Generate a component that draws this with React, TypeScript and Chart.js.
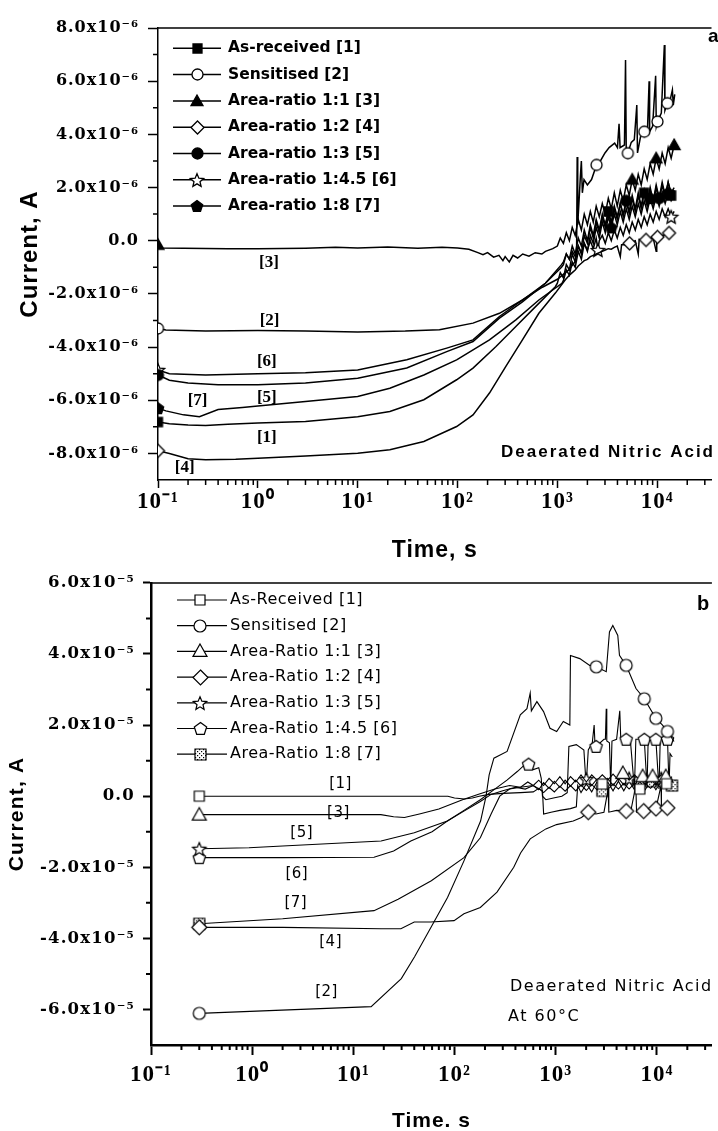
import React, { useEffect, useRef } from 'react';
import { Chart, registerables } from 'chart.js';

Chart.register(...registerables);

// ================= shared x axis (time, s, log) =================
const X_MIN = 0.1;
const X_MAX = 35000;
const X_DECADES = [0.1, 1, 10, 100, 1000, 10000];

// ================= panel a (current in 1e-6 A) =================
const A_UNIT = 1e-6;
const A_Y_MIN = -9;
const A_Y_MAX = 8;
const A_Y_TICKS = [-8, -6, -4, -2, 0, 2, 4, 6, 8];
const A_Y_MINOR = [-7, -5, -3, -1, 1, 3, 5, 7];
const A_NAMES = [
  'As-received [1]',
  'Sensitised [2]',
  'Area-ratio 1:1 [3]',
  'Area-ratio 1:2 [4]',
  'Area-ratio 1:3 [5]',
  'Area-ratio 1:4.5 [6]',
  'Area-ratio 1:8 [7]',
];

const A1: [number, number][] = [
  [0.1, -6.82], [0.13, -6.88], [0.2, -6.93], [0.3, -6.95], [0.5, -6.9], [1, -6.86], [3, -6.8], [10, -6.62],
  [21, -6.42], [46, -5.98], [98, -5.23], [143, -4.79], [243, -3.98], [384, -3.23], [605, -2.48], [955, -1.73],
  [1000, -1.6], [1070, -1.2], [1150, -1.4], [1230, -0.9], [1320, -1.1], [1410, -0.5], [1510, -0.8], [1620, -0.2],
  [1740, -0.5], [1860, 0.2], [2000, -0.1], [2140, 0.5], [2290, 0.1], [2450, 0.7], [2630, 0.3], [2820, 0.9],
  [3020, 0.5], [3240, 1.1], [3470, 0.6], [3720, 1.2], [3980, 0.8], [4270, 1.4], [4570, 0.9], [4900, 1.5],
  [5250, 1.0], [5620, 1.6], [6030, 1.1], [6460, 1.7], [6920, 1.2], [7410, 1.8], [7940, 1.3], [8510, 1.9],
  [9120, 1.4], [9770, 2.0], [10470, 1.5], [11220, 2.1], [12020, 1.6], [12880, 2.2], [13800, 1.7], [14790, 1.9],
];
const A2: [number, number][] = [
  [0.1, -3.3], [0.12, -3.36], [0.3, -3.4], [1, -3.38], [3, -3.4], [10, -3.43], [30, -3.4], [66, -3.35],
  [143, -3.1], [263, -2.73], [447, -2.23], [708, -1.75], [1000, -1.45], [1300, -1.1], [1500, -0.8],
  [1560, -0.4], [1580, 3.15], [1600, 0.6], [1650, 1.5], [1700, 2.4], [1740, 3.0], [1780, 1.8], [1850, 2.3],
  [2000, 2.1], [2200, 2.3], [2470, 2.85], [2700, 3.0], [3000, 3.3], [3300, 3.5], [3750, 3.67], [4000, 3.5],
  [4150, 4.4], [4250, 3.5], [4700, 3.6], [4820, 6.8], [4900, 3.4], [5080, 3.29], [5500, 3.7], [5900, 3.8],
  [6250, 5.1], [6350, 3.3], [6800, 3.9], [7430, 4.1], [8000, 4.2], [8300, 6.0], [8400, 4.1], [9000, 4.3],
  [9650, 6.2], [9800, 4.3], [10070, 4.48], [11000, 4.8], [11800, 7.36], [11950, 4.9], [12650, 5.17],
  [13500, 5.3], [14200, 5.67], [14500, 5.1], [15000, 5.5],
];
const A3: [number, number][] = [
  [0.1, -0.15], [0.11, -0.27], [0.5, -0.3], [1, -0.3], [3, -0.28], [6, -0.25], [10, -0.27], [20, -0.24],
  [40, -0.28], [70, -0.25], [100, -0.27], [130, -0.32], [160, -0.45], [180, -0.53], [200, -0.45], [230, -0.62],
  [260, -0.55], [285, -0.75], [300, -0.6], [330, -0.8], [360, -0.55], [400, -0.65], [450, -0.5], [520, -0.58],
  [600, -0.45], [700, -0.5], [760, -0.4], [900, -0.3], [1000, -0.2], [1070, 0.1], [1150, -0.1], [1230, 0.3],
  [1320, 0.0], [1410, 0.5], [1510, 0.2], [1620, 0.8], [1740, 0.4], [1860, 1.0], [2000, 0.6], [2140, 1.1],
  [2290, 0.7], [2450, 1.3], [2630, 0.9], [2820, 1.4], [3020, 1.0], [3240, 1.6], [3470, 1.2], [3720, 1.8],
  [3980, 1.3], [4270, 1.9], [4570, 1.5], [4900, 2.1], [5250, 1.7], [5620, 2.3], [6030, 1.9], [6460, 2.5],
  [6920, 2.1], [7410, 2.7], [7940, 2.3], [8510, 2.9], [9120, 2.5], [9770, 3.1], [10470, 2.7], [11220, 3.3],
  [12020, 2.9], [12880, 3.5], [13800, 3.1], [14790, 3.6],
];
const A4: [number, number][] = [
  [0.1, -7.9], [0.13, -8.0], [0.2, -8.2], [0.3, -8.24], [0.6, -8.22], [1, -8.18], [3, -8.1], [10, -7.99],
  [21, -7.86], [46, -7.55], [98, -6.99], [143, -6.55], [209, -5.73], [305, -4.73], [447, -3.73], [653, -2.73],
  [955, -1.97], [1202, -1.47], [1320, -1.3], [1410, -1.2], [1510, -1.1], [1620, -0.95], [1740, -0.85],
  [1860, -0.75], [2000, -0.7], [2140, -0.6], [2290, -0.55], [2450, -0.5], [2630, -0.45], [2820, -0.4],
  [3020, -0.35], [3240, -0.3], [3470, -0.32], [3720, -0.25], [3980, -0.2], [4270, -0.6], [4400, -0.15],
  [4900, -0.15], [5290, -0.1], [5620, -0.05], [6030, 0.0], [6460, -0.5], [6600, 0.05], [7410, 0.02],
  [7730, 0.03], [8510, 0.08], [9120, 0.1], [9770, -0.4], [9900, 0.12], [10070, 0.14], [11220, 0.2],
  [12020, 0.22], [13150, 0.29], [14790, 0.35],
];
const A5: [number, number][] = [
  [0.1, -5.05], [0.13, -5.25], [0.2, -5.35], [0.4, -5.42], [1, -5.42], [3, -5.35], [10, -5.17], [31, -4.79],
  [78, -4.17], [143, -3.79], [263, -2.91], [447, -2.3], [759, -1.6], [1100, -1.0], [1150, -0.9], [1230, -0.5],
  [1320, -0.7], [1410, -0.2], [1510, -0.5], [1620, 0.1], [1740, -0.2], [1860, 0.4], [2000, 0.0], [2140, 0.6],
  [2290, 0.2], [2450, 0.8], [2630, 0.4], [2820, 1.0], [3020, 0.6], [3240, 1.1], [3470, 0.7], [3720, 1.3],
  [3980, 0.9], [4270, 1.4], [4570, 1.0], [4900, 1.5], [5250, 1.1], [5620, 1.7], [6030, 1.2], [6460, 1.8],
  [6920, 1.3], [7410, 1.9], [7940, 1.4], [8510, 2.0], [9120, 1.5], [9770, 2.1], [10470, 1.6], [11220, 2.2],
  [12020, 1.7], [12880, 2.2], [13800, 1.8], [14790, 2.0],
];
const A6: [number, number][] = [
  [0.1, -4.86], [0.13, -5.0], [0.3, -5.05], [1, -5.0], [3, -4.97], [10, -4.86], [31, -4.48], [78, -4.04],
  [143, -3.73], [263, -2.85], [447, -2.23], [759, -1.6], [1100, -0.9], [1150, -0.8], [1230, -0.5], [1320, -0.7],
  [1410, -0.4], [1510, -0.6], [1620, -0.2], [1740, -0.45], [1860, -0.1], [2000, -0.35], [2140, 0.0],
  [2290, -0.3], [2450, 0.1], [2550, -0.35], [2630, 0.0], [2820, 0.2], [3020, -0.1], [3240, 0.3], [3470, 0.0],
  [3720, 0.4], [3980, 0.1], [4270, 0.5], [4570, 0.2], [4900, 0.6], [5250, 0.3], [5620, 0.7], [6030, 0.4],
  [6460, 0.8], [6920, 0.5], [7410, 0.9], [7940, 0.6], [8510, 1.0], [9120, 0.7], [9770, 1.1], [10470, 0.8],
  [11220, 1.2], [12020, 0.9], [12880, 1.2], [13800, 0.9], [14790, 1.1],
];
const A7: [number, number][] = [
  [0.1, -6.3], [0.12, -6.4], [0.18, -6.55], [0.26, -6.62], [0.4, -6.35], [0.7, -6.27], [1, -6.22], [3, -6.05],
  [10, -5.86], [21, -5.55], [46, -5.05], [98, -4.48], [209, -3.73], [384, -2.98], [653, -2.23], [1112, -1.6],
  [1150, -1.5], [1230, -1.1], [1320, -1.3], [1410, -0.8], [1510, -1.0], [1620, -0.4], [1740, -0.7], [1860, -0.1],
  [2000, -0.4], [2140, 0.2], [2290, -0.1], [2450, 0.5], [2630, 0.1], [2820, 0.7], [3020, 0.3], [3240, 0.9],
  [3470, 0.5], [3720, 1.0], [3980, 0.6], [4270, 1.1], [4570, 0.7], [4900, 1.2], [5250, 0.8], [5620, 1.3],
  [6030, 0.9], [6460, 1.4], [6920, 1.0], [7410, 1.5], [7940, 1.1], [8510, 1.6], [9120, 1.2], [9770, 1.7],
  [10470, 1.3], [11220, 1.8], [12020, 1.4], [12880, 1.8], [13800, 1.5], [14790, 1.7],
];
// times (s) at which the symbols are shown
const A1_MARKS = [0.1, 3240, 7410, 13800];
const A2_MARKS = [0.1, 2470, 5080, 7430, 10070, 12650];
const A3_MARKS = [0.1, 5620, 9770, 14790];
const A4_MARKS = [0.1, 5290, 7730, 10070, 13150];
const A5_MARKS = [0.1, 4900, 10470];
const A6_MARKS = [0.1, 2550, 13800];
const A7_MARKS = [0.1, 3470, 8510, 12880];
// curve tags: text, time (s), current (1e-6 A)
const A_TAGS = ['[1]', '[2]', '[3]', '[4]', '[5]', '[6]', '[7]'];
const A_TAG_T = [1.23, 1.31, 1.29, 0.185, 1.23, 1.23, 0.249];
const A_TAG_V = [-7.41, -3.02, -0.83, -8.54, -5.91, -4.56, -6.02];

// ================= panel b (current in 1e-5 A) =================
const B_UNIT = 1e-5;
const B_Y_MIN = -7;
const B_Y_MAX = 6;
const B_Y_TICKS = [-6, -4, -2, 0, 2, 4, 6];
const B_Y_MINOR = [-5, -3, -1, 1, 3, 5];
const B_NAMES = [
  'As-Received [1]',
  'Sensitised [2]',
  'Area-Ratio 1:1 [3]',
  'Area-Ratio 1:2 [4]',
  'Area-Ratio 1:3 [5]',
  'Area-Ratio 1:4.5 [6]',
  'Area-Ratio 1:8 [7]',
];

const B1: [number, number][] = [
  [0.3, 0.0], [1, 0.0], [5, 0.0], [20, 0.0], [60, 0.0], [86, 0.0], [100, -0.05], [125, -0.08], [150, -0.05],
  [175, 0.0], [220, 0.05], [300, 0.08], [450, 0.1], [600, 0.12], [680, 0.22], [760, 0.1], [860, 0.25],
  [970, 0.12], [1100, 0.28], [1240, 0.14], [1400, 0.3], [1580, 0.15], [1780, 0.32], [2010, 0.16], [2270, 0.33],
  [2560, 0.18], [2890, 0.34], [3270, 0.18], [3690, 0.35], [4170, 0.2], [4710, 0.36], [5320, 0.2], [6010, 0.36],
  [6790, 0.2], [7670, 0.36], [8660, 0.22], [9780, 0.36], [11050, 0.22], [12480, 0.35], [14100, 0.25],
];
const B2: [number, number][] = [
  [0.3, -6.11], [1.97, -6.02], [15, -5.92], [29.8, -5.13], [40.3, -4.52], [58.6, -3.69], [85.3, -2.85],
  [124, -1.82], [181, -0.7], [205, 0.0], [220, 0.6], [245, 1.07], [331, 1.26], [447, 2.29], [520, 2.46],
  [560, 2.9], [575, 2.4], [652, 2.66], [759, 2.38], [879, 1.91], [1023, 1.82], [1189, 2.1], [1380, 2.0],
  [1400, 3.96], [1730, 3.87], [2170, 3.68], [2520, 3.64], [3160, 3.5], [3400, 4.62], [3670, 4.8], [4110, 4.52],
  [4270, 3.96], [4970, 3.68], [6220, 3.03], [7510, 2.74], [9770, 2.19], [11380, 2.0], [12740, 1.82],
  [14790, 1.54],
];
const B3: [number, number][] = [
  [0.3, -0.52], [2, -0.52], [10, -0.52], [18.7, -0.52], [25, -0.58], [32, -0.6], [45, -0.5], [70, -0.36],
  [120, -0.1], [170, 0.05], [250, 0.2], [350, 0.3], [450, 0.25], [530, 0.4], [600, 0.3], [680, 0.45],
  [760, 0.3], [860, 0.5], [970, 0.35], [1100, 0.55], [1240, 0.35], [1400, 0.55], [1580, 0.4], [1780, 0.6],
  [2010, 0.4], [2270, 0.6], [2560, 0.45], [2890, 0.6], [3270, 0.45], [3690, 0.62], [4170, 0.45], [4610, 0.65],
  [5320, 0.45], [6010, 0.6], [6790, 0.45], [7240, 0.56], [7670, 0.45], [8660, 0.6], [9080, 0.56], [9780, 0.45],
  [11050, 0.6], [12250, 0.56], [13100, 0.45], [14100, 0.55],
];
const B4: [number, number][] = [
  [0.3, -3.69], [2, -3.69], [18.8, -3.73], [29.5, -3.73], [40, -3.54], [58, -3.54], [99, -3.5], [124, -3.31],
  [180, -3.13], [263, -2.7], [385, -2.0], [450, -1.6], [560, -1.2], [800, -0.92], [1020, -0.8], [1490, -0.7],
  [1800, -0.6], [2100, -0.45], [2500, -0.5], [3000, -0.45], [3300, 0.2], [3350, -0.45], [4000, -0.4],
  [4970, -0.42], [5500, -0.45], [6200, 0.3], [6300, -0.45], [7400, -0.42], [8500, -0.4], [9800, -0.35],
  [11000, 0.3], [11100, -0.35], [12700, -0.33], [14000, -0.3],
];
const B5: [number, number][] = [
  [0.3, -1.48], [0.93, -1.45], [2, -1.4], [18.8, -1.26], [40, -1.03], [85, -0.7], [124, -0.42], [180, -0.15],
  [230, 0.05], [300, 0.15], [400, 0.25], [500, 0.2], [600, 0.3], [680, 0.18], [760, 0.38], [860, 0.22],
  [970, 0.42], [1100, 0.25], [1240, 0.45], [1400, 0.28], [1580, 0.45], [1780, 0.28], [2010, 0.48], [2270, 0.3],
  [2560, 0.48], [2890, 0.3], [3270, 0.5], [3690, 0.3], [4170, 0.5], [4710, 0.32], [5320, 0.5], [6010, 0.32],
  [6790, 0.5], [7670, 0.32], [8660, 0.5], [9780, 0.32], [11050, 0.5], [12480, 0.32], [14100, 0.45],
];
const B6: [number, number][] = [
  [0.3, -1.73], [2, -1.73], [16, -1.72], [25, -1.54], [37, -1.26], [60, -1.0], [85, -0.7], [124, -0.4],
  [180, -0.1], [250, 0.2], [330, 0.45], [420, 0.7], [480, 0.85], [540, 0.9], [603, 0.75], [680, 0.8],
  [720, 0.5], [740, 0.0], [800, -0.1], [950, -0.05], [1150, 0.0], [1300, 0.1], [1350, 1.4], [1600, 1.45],
  [1900, 1.3], [2000, 0.3], [2100, 1.3], [2300, 1.5], [2400, 2.0], [2450, 1.4], [2510, 1.4], [3000, 1.6],
  [3100, 1.6], [3160, 2.46], [3200, 1.55], [3400, 1.5], [3500, 0.25], [3600, 1.55], [4000, 1.6], [4300, 2.4],
  [4400, 1.6], [4970, 1.6], [5500, 1.5], [6000, 0.2], [6200, 1.6], [7510, 1.6], [8000, 0.25], [8200, 1.55],
  [9770, 1.6], [10500, 0.2], [10800, 1.6], [12740, 1.6], [13200, 0.25], [13500, 1.2], [14200, 1.1],
];
const B7: [number, number][] = [
  [0.3, -3.59], [2, -3.45], [16, -3.22], [27.7, -2.9], [59, -2.38], [124, -1.73], [180, -1.17], [230, -0.5],
  [280, 0.0], [350, 0.2], [450, 0.25], [600, 0.3], [740, 0.15], [760, -0.5], [900, -0.45], [1100, -0.4],
  [1400, -0.35], [1600, -0.3], [1650, 0.3], [1780, 0.1], [2010, 0.35], [2270, 0.12], [2560, 0.4], [2890, 0.15],
  [3270, 0.4], [3690, 0.15], [4170, 0.42], [4710, 0.15], [5320, 0.42], [6010, 0.18], [6790, 0.42], [7670, 0.18],
  [8660, 0.42], [9780, 0.18], [11050, 0.42], [12480, 0.2], [14100, 0.3],
];
const B1_MARKS = [0.3, 2890, 6790, 12480];
const B2_MARKS = [0.3, 2520, 4970, 7510, 9770, 12740];
const B3_MARKS = [0.3, 4610, 7240, 9080, 12250];
const B4_MARKS = [0.3, 2100, 4970, 7400, 9800, 12700];
const B5_MARKS = [0.3, 2010, 5320, 11050];
const B6_MARKS = [0.3, 540, 2510, 4970, 7510, 9770, 12740];
const B7_MARKS = [0.3, 2890, 8660, 14100];
const B_TAGS = ['[1]', '[2]', '[3]', '[4]', '[5]', '[6]', '[7]'];
const B_TAG_T = [7.47, 5.43, 7.13, 5.96, 3.09, 2.76, 2.7];
const B_TAG_V = [0.34, -5.51, -0.48, -4.11, -1.03, -2.18, -3.02];

// ================= helpers =================
const SUP: Record<string, string> = {
  '-': '\u207B', '0': '\u2070', '1': '\u00B9', '2': '\u00B2', '3': '\u00B3', '4': '\u2074',
  '5': '\u2075', '6': '\u2076', '7': '\u2077', '8': '\u2078', '9': '\u2079',
};
const toSup = (n: number) => String(n).split('').map((c) => SUP[c] || c).join('');

type Shape = 'square' | 'circle' | 'triangle' | 'diamond' | 'star' | 'pentagon' | 'checker';
type MarkerSpec = { shape: Shape; filled: boolean; size: number };

function polygon(g: CanvasRenderingContext2D, cx: number, cy: number, pts: [number, number][]) {
  pts.forEach(([px, py], i) => (i === 0 ? g.moveTo(cx + px, cy + py) : g.lineTo(cx + px, cy + py)));
  g.closePath();
}

function makeMarker(m: MarkerSpec, lw: number): HTMLCanvasElement {
  const pad = Math.ceil(lw) + 1;
  const dim = Math.ceil(m.size + 2 * pad);
  const c = document.createElement('canvas');
  c.width = dim;
  c.height = dim;
  const g = c.getContext('2d') as CanvasRenderingContext2D;
  const cx = dim / 2;
  const cy = dim / 2;
  const r = m.size / 2;
  g.beginPath();
  if (m.shape === 'square' || m.shape === 'checker') {
    g.rect(cx - r, cy - r, 2 * r, 2 * r);
  } else if (m.shape === 'circle') {
    g.arc(cx, cy, r, 0, Math.PI * 2);
  } else if (m.shape === 'triangle') {
    polygon(g, cx, cy, [[0, -r], [r, r * 0.78], [-r, r * 0.78]]);
  } else if (m.shape === 'diamond') {
    polygon(g, cx, cy, [[0, -r], [r, 0], [0, r], [-r, 0]]);
  } else if (m.shape === 'pentagon') {
    const pts: [number, number][] = [];
    for (let i = 0; i < 5; i++) {
      const a = -Math.PI / 2 + (i * 2 * Math.PI) / 5;
      pts.push([r * Math.cos(a), r * Math.sin(a) + r * 0.08]);
    }
    polygon(g, cx, cy, pts);
  } else if (m.shape === 'star') {
    const pts: [number, number][] = [];
    for (let i = 0; i < 10; i++) {
      const a = -Math.PI / 2 + (i * Math.PI) / 5;
      const rr = i % 2 === 0 ? r : r * 0.45;
      pts.push([rr * Math.cos(a), rr * Math.sin(a) + r * 0.1]);
    }
    polygon(g, cx, cy, pts);
  }
  g.fillStyle = m.filled ? '#000' : '#fff';
  g.fill();
  if (m.shape === 'checker') {
    g.fillStyle = '#000';
    for (let i = 0; i < m.size; i += 2) {
      for (let j = 0; j < m.size; j += 2) {
        if ((i / 2 + j / 2) % 2 === 0) g.fillRect(cx - r + i, cy - r + j, 1.2, 1.2);
      }
    }
  }
  g.lineWidth = lw;
  g.strokeStyle = '#000';
  g.stroke();
  return c;
}

function fixScale(size: number, dim: 'width' | 'height', spacing: string) {
  return (scale: any) => {
    scale[dim] = size;
    if (!scale.__spaced) {
      const base = Object.getPrototypeOf(scale).draw;
      scale.draw = function (area: any) {
        const c = this.ctx;
        const prev = c.letterSpacing;
        c.letterSpacing = spacing;
        base.call(this, area);
        c.letterSpacing = prev || '0px';
      };
      scale.__spaced = true;
    }
  };
}

type Note = { text: string; x: number; y: number; font: string; align: CanvasTextAlign; spacing: string };

type Panel = {
  series: [number, number][][];
  marks: number[][];
  names: string[];
  markers: MarkerSpec[];
  markerLw: number;
  unit: number;
  sup: string;
  yMin: number;
  yMax: number;
  yTicks: number[];
  yMinor: number[];
  lineWidth: number;
  areaTop: number;
  yAxisWidth: number;
  xAxisHeight: number;
  borderWidth: number;
  tickWidth: number;
  yTickLen: number;
  xTickLen: number;
  minorLen: number;
  topLine: number;
  yTickFont: any;
  yTickPad: number;
  ySpacing: string;
  xTickFont: any;
  xTickPad: number;
  xSpacing: string;
  yTitle: string;
  yTitleFont: any;
  yTitlePad: number;
  xTitle: string;
  xTitleFont: any;
  xTitlePad: number;
  legend: { x0: number; x1: number; xm: number; xText: number; y0: number; dy: number; font: string; spacing: string; lw: number };
  tags: string[];
  tagT: number[];
  tagV: number[];
  tagFont: string;
  tagSpacing: string;
  notes: Note[];
};

function makeDecor(p: Panel) {
  return {
    id: 'decor',
    afterDraw(chart: any) {
      const ctx = chart.ctx;
      const area = chart.chartArea;
      const xs = chart.scales.x;
      const ys = chart.scales.y;
      ctx.save();
      ctx.strokeStyle = '#000';
      ctx.fillStyle = '#000';
      // top frame
      ctx.lineWidth = p.topLine;
      ctx.beginPath();
      ctx.moveTo(area.left, area.top);
      ctx.lineTo(area.right, area.top);
      ctx.stroke();
      // minor ticks
      ctx.lineWidth = p.tickWidth;
      ctx.beginPath();
      p.yMinor.forEach((v) => {
        const y = ys.getPixelForValue(v * p.unit);
        ctx.moveTo(area.left - p.minorLen, y);
        ctx.lineTo(area.left, y);
      });
      X_DECADES.forEach((d) => {
        for (let k = 2; k <= 9; k++) {
          const t = d * k;
          if (t > X_MAX) break;
          const x = xs.getPixelForValue(t);
          ctx.moveTo(x, area.bottom);
          ctx.lineTo(x, area.bottom + p.minorLen);
        }
      });
      ctx.stroke();
      // legend
      const lg = p.legend;
      ctx.font = lg.font;
      ctx.textBaseline = 'middle';
      ctx.textAlign = 'left';
      ctx.letterSpacing = lg.spacing;
      chart.data.datasets.forEach((ds: any, i: number) => {
        const y = lg.y0 + i * lg.dy;
        ctx.lineWidth = lg.lw;
        ctx.beginPath();
        ctx.moveTo(lg.x0, y);
        ctx.lineTo(lg.x1, y);
        ctx.stroke();
        const img = ds.pointStyle as HTMLCanvasElement;
        ctx.drawImage(img, Math.round(lg.xm - img.width / 2), Math.round(y - img.height / 2));
        ctx.fillText(ds.label, lg.xText, y);
      });
      // curve tags
      ctx.font = p.tagFont;
      ctx.textAlign = 'center';
      ctx.letterSpacing = p.tagSpacing;
      p.tags.forEach((tag, i) => {
        ctx.fillText(tag, xs.getPixelForValue(p.tagT[i]), ys.getPixelForValue(p.tagV[i] * p.unit));
      });
      // notes
      p.notes.forEach((n) => {
        ctx.font = n.font;
        ctx.textAlign = n.align;
        ctx.letterSpacing = n.spacing;
        ctx.fillText(n.text, n.x, n.y);
      });
      ctx.letterSpacing = '0px';
      ctx.restore();
    },
  };
}

function buildConfig(p: Panel): any {
  const datasets = p.series.map((s, i) => {
    const marks = new Set(p.marks[i]);
    const img = makeMarker(p.markers[i], p.markerLw);
    return {
      label: p.names[i],
      data: s.map(([t, v]) => ({ x: t, y: v * p.unit })),
      borderColor: '#000',
      backgroundColor: '#000',
      borderWidth: p.lineWidth,
      pointStyle: img,
      pointRadius: (c: any) => (c.raw && marks.has(c.raw.x) ? 5 : 0),
      pointHoverRadius: 0,
      pointHitRadius: 0,
      tension: 0,
      fill: false,
      clip: 0,
    };
  });
  return {
    type: 'line',
    data: { datasets },
    options: {
      responsive: false,
      animation: false,
      events: [],
      layout: { padding: { top: p.areaTop, left: 0, right: 0, bottom: 0 } },
      plugins: { legend: { display: false }, tooltip: { enabled: false } },
      scales: {
        x: {
          type: 'logarithmic',
          min: X_MIN,
          max: X_MAX,
          bounds: 'data',
          afterBuildTicks: (s: any) => {
            s.ticks = X_DECADES.map((v) => ({ value: v }));
          },
          afterFit: fixScale(p.xAxisHeight, 'height', p.xSpacing),
          ticks: {
            autoSkip: false,
            maxRotation: 0,
            color: '#000',
            font: p.xTickFont,
            padding: p.xTickPad,
            callback: (v: any) => '10' + toSup(Math.round(Math.log10(Number(v)))),
          },
          grid: { drawOnChartArea: false, drawTicks: true, tickLength: p.xTickLen, tickWidth: p.tickWidth, tickColor: '#000' },
          border: { display: true, color: '#000', width: p.borderWidth },
          title: { display: true, text: p.xTitle, color: '#000', font: p.xTitleFont, padding: { top: 0, bottom: p.xTitlePad } },
        },
        y: {
          type: 'linear',
          min: p.yMin * p.unit,
          max: p.yMax * p.unit,
          bounds: 'data',
          afterBuildTicks: (s: any) => {
            s.ticks = p.yTicks.map((v) => ({ value: v * p.unit }));
          },
          afterFit: fixScale(p.yAxisWidth, 'width', p.ySpacing),
          ticks: {
            color: '#000',
            font: p.yTickFont,
            padding: p.yTickPad,
            callback: (v: any) => {
              const n = Number(v) / p.unit;
              if (Math.abs(n) < 1e-9) return '0.0';
              return n.toFixed(1) + 'x10' + p.sup;
            },
          },
          grid: { drawOnChartArea: false, drawTicks: true, tickLength: p.yTickLen, tickWidth: p.tickWidth, tickColor: '#000' },
          border: { display: true, color: '#000', width: p.borderWidth },
          title: { display: true, text: p.yTitle, color: '#000', font: p.yTitleFont, padding: { top: p.yTitlePad, bottom: 0 } },
        },
      },
    },
    plugins: [makeDecor(p)],
  };
}

const PANEL_A: Panel = {
  series: [A1, A2, A3, A4, A5, A6, A7],
  marks: [A1_MARKS, A2_MARKS, A3_MARKS, A4_MARKS, A5_MARKS, A6_MARKS, A7_MARKS],
  names: A_NAMES,
  markers: [
    { shape: 'square', filled: true, size: 9 },
    { shape: 'circle', filled: false, size: 11 },
    { shape: 'triangle', filled: true, size: 12 },
    { shape: 'diamond', filled: false, size: 13 },
    { shape: 'circle', filled: true, size: 11 },
    { shape: 'star', filled: false, size: 14 },
    { shape: 'pentagon', filled: true, size: 12 },
  ],
  markerLw: 1.3,
  unit: A_UNIT,
  sup: toSup(-6),
  yMin: A_Y_MIN,
  yMax: A_Y_MAX,
  yTicks: A_Y_TICKS,
  yMinor: A_Y_MINOR,
  lineWidth: 1.5,
  areaTop: 28,
  yAxisWidth: 158,
  xAxisHeight: 90,
  borderWidth: 1.5,
  tickWidth: 1.5,
  yTickLen: 10,
  xTickLen: 8,
  minorLen: 5,
  topLine: 1.5,
  yTickFont: { family: 'DejaVu Serif', size: 16, weight: 'bold' },
  yTickPad: 9,
  ySpacing: '1px',
  xTickFont: { family: 'Liberation Serif', size: 23, weight: 'bold' },
  xTickPad: 0,
  xSpacing: '1px',
  yTitle: 'Current, A',
  yTitleFont: { family: 'Liberation Sans', size: 24, weight: 'bold' },
  yTitlePad: 16,
  xTitle: 'Time, s',
  xTitleFont: { family: 'Liberation Sans', size: 23, weight: 'bold' },
  xTitlePad: 6,
  legend: { x0: 173, x1: 221, xm: 197, xText: 228, y0: 48.3, dy: 26.3, font: 'bold 15.5px "DejaVu Sans"', spacing: '0px', lw: 1.5 },
  tags: A_TAGS,
  tagT: A_TAG_T,
  tagV: A_TAG_V,
  tagFont: 'bold 17px "Liberation Serif"',
  tagSpacing: '0px',
  notes: [
    { text: 'Deaerated Nitric Acid', x: 715, y: 452, font: 'bold 17px "Liberation Sans"', align: 'right', spacing: '2px' },
    { text: 'a', x: 708, y: 37, font: 'bold 19px "Liberation Sans"', align: 'left', spacing: '0px' },
  ],
};

const PANEL_B: Panel = {
  series: [B1, B2, B3, B4, B5, B6, B7],
  marks: [B1_MARKS, B2_MARKS, B3_MARKS, B4_MARKS, B5_MARKS, B6_MARKS, B7_MARKS],
  names: B_NAMES,
  markers: [
    { shape: 'square', filled: false, size: 10 },
    { shape: 'circle', filled: false, size: 12 },
    { shape: 'triangle', filled: false, size: 14 },
    { shape: 'diamond', filled: false, size: 15 },
    { shape: 'star', filled: false, size: 14 },
    { shape: 'pentagon', filled: false, size: 13 },
    { shape: 'checker', filled: false, size: 11 },
  ],
  markerLw: 1.2,
  unit: B_UNIT,
  sup: toSup(-5),
  yMin: B_Y_MIN,
  yMax: B_Y_MAX,
  yTicks: B_Y_TICKS,
  yMinor: B_Y_MINOR,
  lineWidth: 1.1,
  areaTop: 16,
  yAxisWidth: 151,
  xAxisHeight: 86,
  borderWidth: 2.5,
  tickWidth: 2,
  yTickLen: 8,
  xTickLen: 10,
  minorLen: 5,
  topLine: 1.5,
  yTickFont: { family: 'DejaVu Serif', size: 16.5, weight: 'bold' },
  yTickPad: 8,
  ySpacing: '1.2px',
  xTickFont: { family: 'Liberation Serif', size: 23, weight: 'bold' },
  xTickPad: 6,
  xSpacing: '1px',
  yTitle: 'Current, A',
  yTitleFont: { family: 'Liberation Sans', size: 21, weight: 'bold' },
  yTitlePad: 5,
  xTitle: 'Time. s',
  xTitleFont: { family: 'Liberation Sans', size: 21, weight: 'bold', lineHeight: 0.9 },
  xTitlePad: 0,
  legend: { x0: 177, x1: 227, xm: 200, xText: 230, y0: 35, dy: 25.7, font: '16px "DejaVu Sans"', spacing: '0.5px', lw: 1.2 },
  tags: B_TAGS,
  tagT: B_TAG_T,
  tagV: B_TAG_V,
  tagFont: '15px "DejaVu Sans"',
  tagSpacing: '0.5px',
  notes: [
    { text: 'Deaerated Nitric Acid', x: 510, y: 422, font: '16px "DejaVu Sans"', align: 'left', spacing: '1.5px' },
    { text: 'At 60\u00B0C', x: 508, y: 452, font: '16px "DejaVu Sans"', align: 'left', spacing: '1.5px' },
    { text: 'b', x: 697, y: 39.5, font: 'bold 20px "Liberation Sans"', align: 'left', spacing: '0px' },
  ],
};

export default function App() {
  const refA = useRef<HTMLCanvasElement>(null);
  const refB = useRef<HTMLCanvasElement>(null);
  useEffect(() => {
    const ca = new Chart(refA.current as HTMLCanvasElement, buildConfig(PANEL_A));
    const cb = new Chart(refB.current as HTMLCanvasElement, buildConfig(PANEL_B));
    return () => {
      ca.destroy();
      cb.destroy();
    };
  }, []);
  return (
    <div style={{ position: 'absolute', left: 0, top: 0, width: 718, height: 1131, background: '#fff', overflow: 'hidden' }}>
      <canvas ref={refA} width={718} height={570} style={{ position: 'absolute', left: 0, top: 0 }} />
      <canvas ref={refB} width={718} height={566} style={{ position: 'absolute', left: 0, top: 565 }} />
    </div>
  );
}
